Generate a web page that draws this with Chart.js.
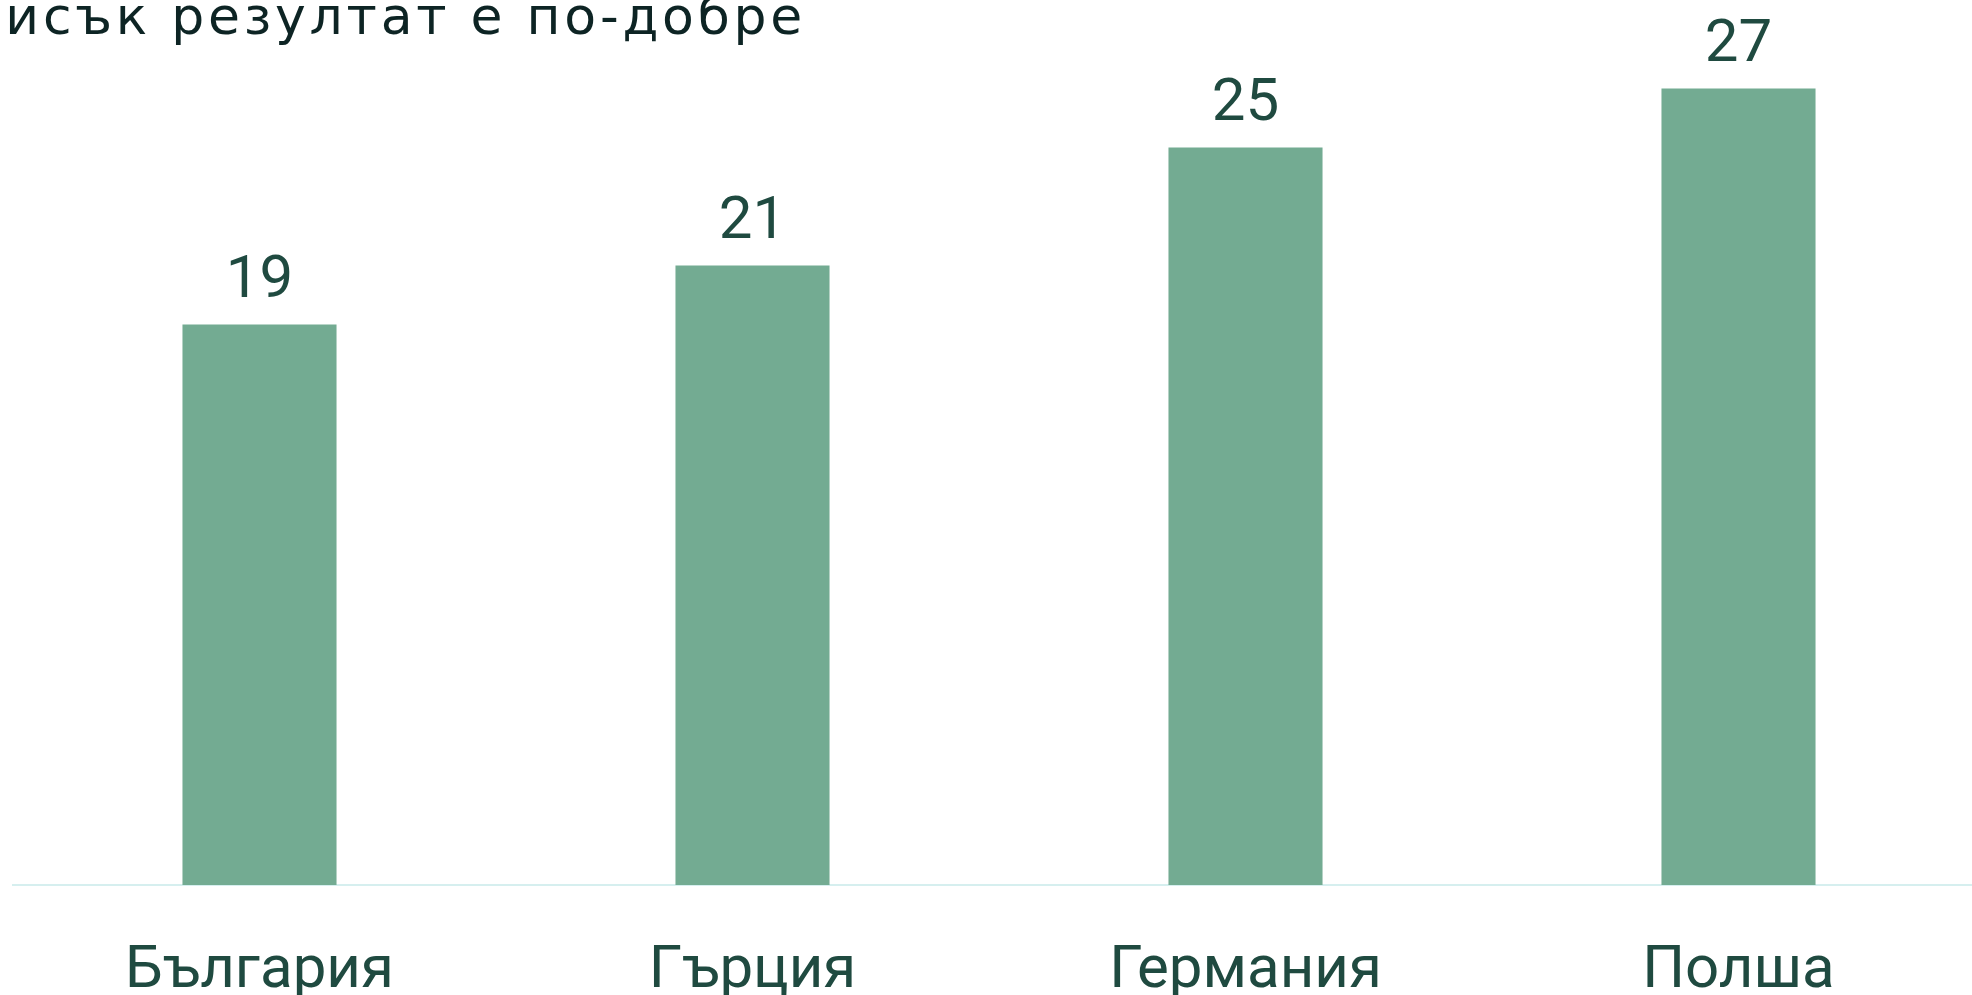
<!DOCTYPE html>
<html lang="bg">
<head>
<meta charset="utf-8">
<script src="https://cdn.jsdelivr.net/npm/chart.js@4.4.0/dist/chart.umd.min.js"></script>
<style>
  html, body { margin: 0; padding: 0; background: #fff; overflow: hidden; width: 1972px; height: 995px; }
  #wrap { position: absolute; left: 0; top: 0; width: 1990px; height: 1059px; }
  #title {
    position: absolute; right: 1166px; top: -9px; white-space: nowrap;
    font-family: 'DejaVu Sans', sans-serif; font-size: 52px; line-height: 50px;
    letter-spacing: 3.75px; color: #0d2424;
    z-index: 2;
  }
</style>
</head>
<body>
<div id="title">По-нисък резултат е по-добре</div>
<div id="wrap"><canvas id="myChart"></canvas></div>
<script>
const countries = ['България', 'Гърция', 'Германия', 'Полша']
const scores = [19, 21, 25, 27]

const barColor = '#73ab92'
const textColor = '#1f4a40'

// пише стойностите над стълбовете
const valueLabels = {
  id: 'valueLabels',
  afterDatasetsDraw(chart) {
    const ctx = chart.ctx
    const meta = chart.getDatasetMeta(0)
    ctx.save()
    ctx.font = '60px Roboto'
    ctx.fillStyle = textColor
    ctx.textAlign = 'center'
    ctx.textBaseline = 'alphabetic'
    meta.data.forEach((bar, i) => {
      ctx.fillText(String(scores[i]), bar.x, bar.y - 28)
    })
    ctx.restore()
  }
}

let ctx = document.getElementById('myChart').getContext('2d')

let myChart = new Chart(ctx, {
  type: 'bar',
  data: {
    labels: countries,
    datasets: [{
      data: scores,
      backgroundColor: barColor,
      barPercentage: 0.625,
      categoryPercentage: 0.5
    }]
  },
  options: {
    responsive: true,
    maintainAspectRatio: false,
    animation: false,
    layout: { padding: { left: 13, right: 5, top: 0, bottom: 0 } },
    plugins: {
      legend: { display: false },
      tooltip: { enabled: false }
    },
    scales: {
      x: {
        grid: { display: false, drawTicks: false },
        border: { display: true, color: '#d6efef', width: 2 },
        ticks: {
          color: textColor,
          font: { family: 'Roboto', size: 60 },
          padding: 51
        }
      },
      y: {
        display: false,
        min: 0,
        max: 30
      }
    }
  },
  plugins: [valueLabels]
})
</script>
</body>
</html>
